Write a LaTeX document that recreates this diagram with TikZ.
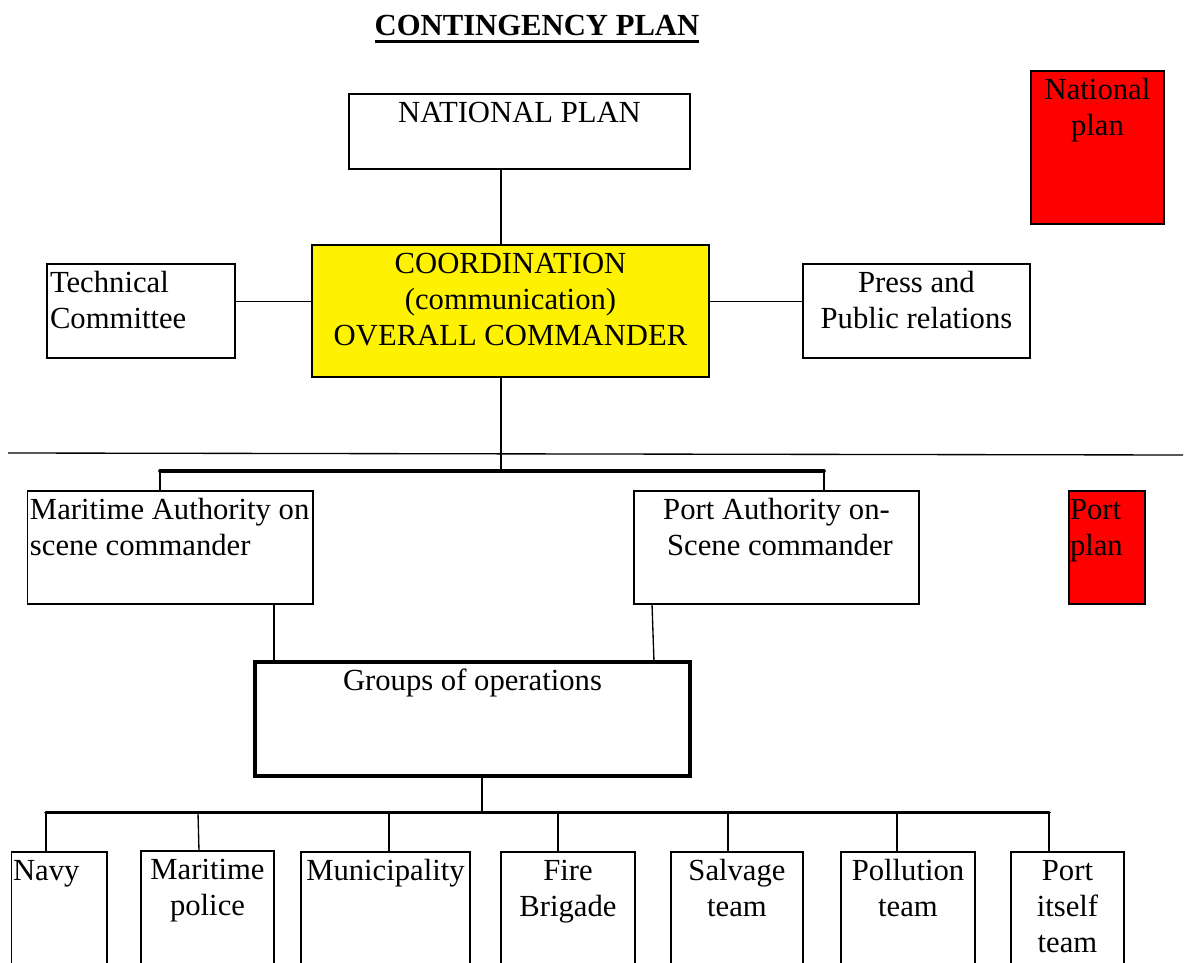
\documentclass[tikz,border=0pt]{standalone}
\usepackage{fontspec}
\setmainfont{Liberation Serif}
\usetikzlibrary{calc}
\newdimen\pxu \pxu=0.75pt
% #1 width, #2 height (px), #3 alignment, #4 text
\newcommand{\bt}[4]{\parbox[t][#2\pxu][t]{#1\pxu}{#3\rule{0pt}{21.6pt}#4}}
\tikzset{
  every node/.style={font=\fontsize{23}{27}\selectfont, inner sep=0pt, outer sep=0pt},
  plainbox/.style={draw, line width=1pt, anchor=north west},
  heavybox/.style={draw, line width=2.3pt, anchor=north west},
  conn/.style={line width=1pt},
  heavybar/.style={line width=2.7pt, line cap=round},
}
\begin{document}
\begin{tikzpicture}[x=0.75pt,y=-0.75pt]
\useasboundingbox (0,0) rectangle (1186,963);
\clip (0,0) rectangle (1186,963);

% title
\node[font=\fontsize{23}{27}\selectfont\bfseries, anchor=base] (title) at (537,36) {CONTINGENCY PLAN};
\draw[line width=2.3pt] ($(title.base west)+(0,5.5)$) coordinate (ulL) -- ($(title.base east)+(0,5.5)$) coordinate (ulR);

% upper part
\node[plainbox] (natl) at (349,94) {\bt{341}{75}{\centering}{NATIONAL PLAN}};
\node[plainbox, fill=red] (natred) at (1031,71) {\bt{133}{153}{\centering}{National\\plan}};
\node[plainbox, fill=yellow] (coord) at (312,245) {\bt{397}{132}{\centering}{COORDINATION\\(communication)\\OVERALL COMMANDER}};
\node[plainbox] (tech) at (47,264) {\bt{188}{94}{\raggedright\leftskip=3\pxu}{Technical\\Committee}};
\node[plainbox] (press) at (803,264) {\bt{227}{94}{\centering}{Press and\\Public relations}};

% middle part
\node[plainbox] (marit) at (27.5,491) {\bt{285.5}{113}{\raggedright\leftskip=2.5\pxu}{Maritime Authority on\\scene commander}};
\node[plainbox] (porta) at (634,491) {\bt{285}{113}{\centering}{Port Authority on-\\\hspace*{7\pxu}Scene commander}};
\node[plainbox, fill=red] (portred) at (1069,491) {\bt{76}{113}{\raggedright\leftskip=1\pxu}{Port\\plan}};
\node[heavybox] (groups) at (255,662) {\bt{435}{114}{\centering}{Groups of operations}};

% bottom boxes
\node[plainbox] (navy) at (11.5,852) {\bt{95.5}{140}{\raggedright\leftskip=1.5\pxu}{Navy}};
\node[plainbox] (mpol) at (141,851) {\bt{133}{140}{\centering}{Maritime\\police}};
\node[plainbox] (muni) at (301,852) {\bt{169}{140}{\centering}{Municipality}};
\node[plainbox] (fire) at (501,852) {\bt{134}{140}{\centering}{Fire\\Brigade}};
\node[plainbox] (salv) at (671,852) {\bt{132}{140}{\centering}{Salvage\\team}};
\node[plainbox] (poll) at (841,852) {\bt{134}{140}{\centering}{Pollution\\team}};
\node[plainbox] (pself) at (1011,852) {\bt{113}{140}{\centering}{Port\\itself\\team}};

% helper coordinates
\coordinate (cx) at (501,0);
\coordinate (cy) at (0,301.5);
\coordinate (sepL) at (8,453);
\coordinate (sepR) at (1183,455);
\coordinate (barL) at (160,471);
\coordinate (barR) at (824,471);
\coordinate (gx) at (482,0);
\coordinate (bbL) at (46,812.5);
\coordinate (bbR) at (1049,812.5);

% connectors upper
\draw[conn] (natl.south -| cx) -- (coord.north -| cx);
\draw[conn] (tech.east |- cy) -- (coord.west |- cy);
\draw[conn] (coord.east |- cy) -- (press.west |- cy);
\draw[conn] (sepL) -- (sepR);
\draw[conn] (coord.south -| cx) -- (barL -| cx);
\draw[heavybar] (barL) -- (barR);
\draw[conn] (barL) -- (barL |- marit.north);
\draw[conn] (barR) -- (barR |- porta.north);

% connectors to groups
\coordinate (m1) at (274,0);
\coordinate (p1) at (652,0);
\coordinate (p2) at (654,0);
\draw[conn] (marit.south -| m1) -- (groups.north -| m1);
\draw[conn] (porta.south -| p1) -- (groups.north -| p2);
\draw[conn] (groups.south -| gx) -- (bbL -| gx);
\draw[heavybar] (bbL) -- (bbR);

% connectors to bottom boxes
\coordinate (x1) at (198,0);
\coordinate (x1b) at (199,0);
\coordinate (x2) at (389,0);
\coordinate (x3) at (558,0);
\coordinate (x4) at (728,0);
\coordinate (x5) at (897,0);
\draw[conn] (bbL) -- (bbL |- navy.north);
\draw[conn] (bbL -| x1) -- (mpol.north -| x1b);
\draw[conn] (bbL -| x2) -- (muni.north -| x2);
\draw[conn] (bbL -| x3) -- (fire.north -| x3);
\draw[conn] (bbL -| x4) -- (salv.north -| x4);
\draw[conn] (bbL -| x5) -- (poll.north -| x5);
\draw[conn] (bbR) -- (bbR |- pself.north);
\end{tikzpicture}
\end{document}
